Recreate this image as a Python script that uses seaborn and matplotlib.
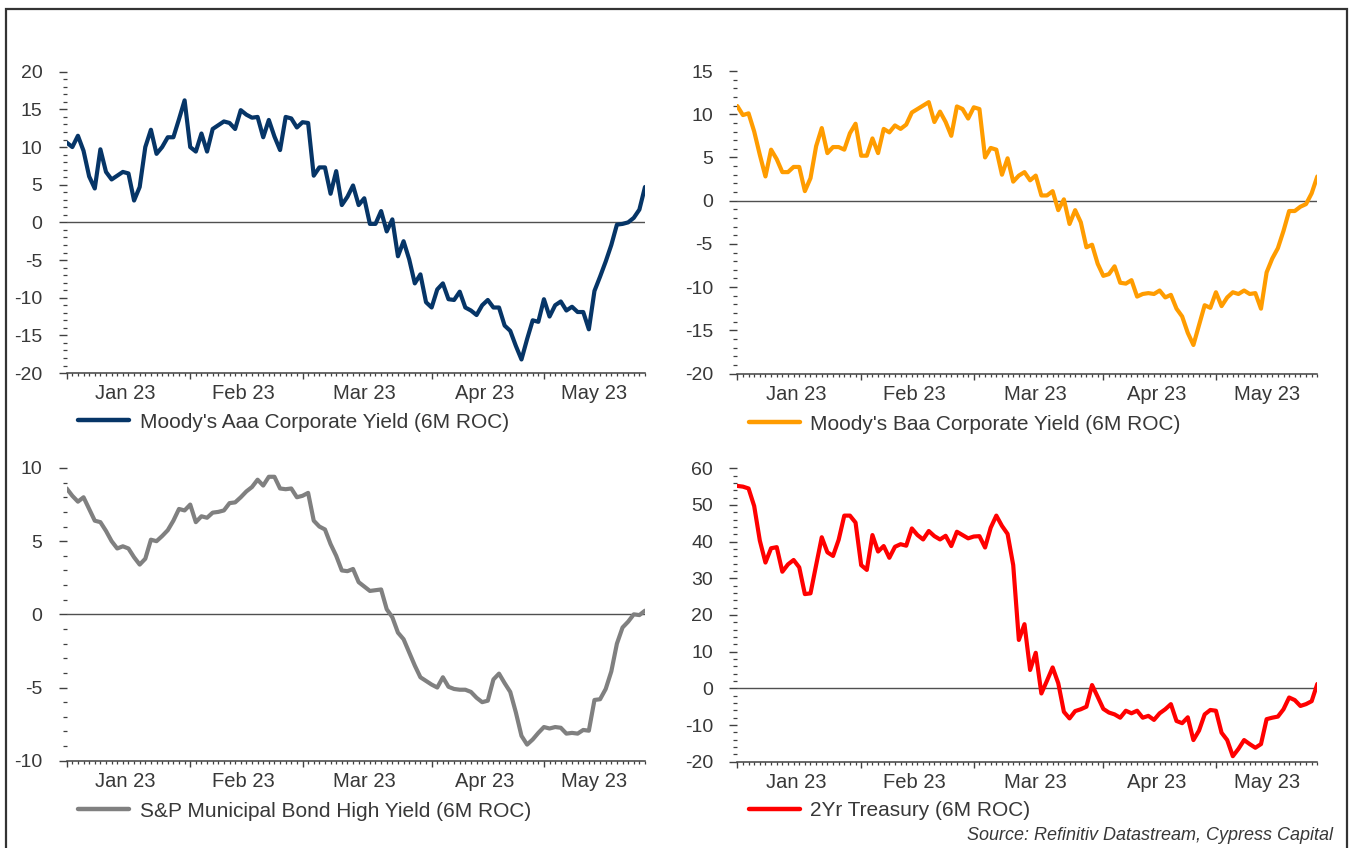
import numpy as np
import pandas as pd
import matplotlib
matplotlib.use("Agg")
import matplotlib.pyplot as plt
from matplotlib.ticker import FixedLocator, MultipleLocator
from matplotlib.patches import Rectangle
import seaborn as sns

# Trading days covered by the chart
dates = pd.bdate_range("2023-01-02", "2023-05-25")

# 6-month rate of change (%), one value per trading day
aaa = [10.6, 10.0, 11.5, 9.5, 6.1, 4.5, 9.7, 6.7, 5.7, 6.2,
       6.7, 6.5, 2.9, 4.7, 10.0, 12.3, 9.1, 10.0, 11.3, 11.3,
       13.7, 16.2, 10.0, 9.4, 11.8, 9.4, 12.4, 12.9, 13.4, 13.2,
       12.4, 14.9, 14.3, 13.9, 14.0, 11.3, 13.6, 11.4, 9.6, 14.0,
       13.8, 12.6, 13.3, 13.2, 6.2, 7.3, 7.3, 3.8, 6.8, 2.3,
       3.4, 4.9, 2.3, 3.2, -0.2, -0.2, 1.5, -1.2, 0.4, -4.5,
       -2.5, -4.9, -8.1, -6.9, -10.6, -11.3, -8.9, -8.1, -10.2, -10.3,
       -9.2, -11.3, -11.7, -12.3, -11.0, -10.3, -11.3, -11.3, -13.7, -14.4,
       -16.4, -18.2, -15.5, -13.0, -13.2, -10.2, -12.5, -11.0, -10.5, -11.7,
       -11.2, -11.9, -11.9, -14.2, -9.1, -7.2, -5.2, -3.0, -0.3, -0.2,
       0.0, 0.6, 1.7, 4.7]

baa = [10.95, 9.9, 10.1, 8.0, 5.3, 2.8, 5.9, 4.8, 3.3, 3.3,
       3.9, 3.9, 1.1, 2.6, 6.3, 8.4, 5.5, 6.2, 6.2, 5.9,
       7.8, 8.9, 5.2, 5.2, 7.2, 5.5, 8.3, 7.9, 8.7, 8.3,
       8.8, 10.2, 10.6, 11.0, 11.4, 9.1, 10.3, 9.1, 7.5, 10.9,
       10.6, 9.5, 10.8, 10.6, 5.0, 6.1, 5.9, 3.0, 4.9, 2.2,
       2.9, 3.3, 2.35, 2.9, 0.6, 0.6, 1.1, -1.1, 0.15, -2.7,
       -1.1, -2.5, -5.4, -5.1, -7.3, -8.7, -8.5, -7.6, -9.5, -9.6,
       -9.2, -11.1, -10.8, -10.7, -10.8, -10.4, -11.2, -10.9, -12.5, -13.4,
       -15.3, -16.7, -14.4, -12.1, -12.4, -10.6, -12.2, -11.2, -10.6, -10.8,
       -10.4, -10.8, -10.7, -12.5, -8.3, -6.7, -5.5, -3.5, -1.2, -1.2,
       -0.7, -0.4, 0.85, 2.8]

muni = [8.6, 8.1, 7.7, 8.0, 7.2, 6.4, 6.3, 5.7, 5.0, 4.5,
        4.65, 4.5, 3.9, 3.4, 3.8, 5.1, 5.0, 5.35, 5.75, 6.4,
        7.2, 7.1, 7.5, 6.3, 6.7, 6.6, 6.95, 7.0, 7.1, 7.6,
        7.65, 8.0, 8.4, 8.7, 9.2, 8.8, 9.4, 9.4, 8.6, 8.55,
        8.6, 8.0, 8.1, 8.3, 6.4, 6.0, 5.8, 4.8, 4.0, 3.0,
        2.95, 3.1, 2.2, 1.9, 1.6, 1.65, 1.7, 0.35, -0.2, -1.25,
        -1.7, -2.6, -3.5, -4.3, -4.55, -4.8, -5.0, -4.3, -4.95, -5.1,
        -5.15, -5.15, -5.3, -5.7, -6.0, -5.9, -4.45, -4.05, -4.7, -5.3,
        -6.7, -8.3, -8.9, -8.55, -8.1, -7.7, -7.8, -7.7, -7.75, -8.15,
        -8.1, -8.15, -7.9, -7.95, -5.85, -5.8, -5.1, -3.9, -2.0, -0.9,
        -0.5, 0.0, -0.05, 0.25]

tsy2 = [55.2, 55.0, 54.5, 49.7, 40.3, 34.3, 38.2, 38.5, 31.8, 33.8,
        35.0, 33.0, 25.7, 25.9, 33.6, 41.2, 37.1, 36.1, 40.5, 47.1,
        47.1, 45.2, 33.6, 32.3, 41.8, 37.3, 38.8, 35.6, 38.6, 39.3,
        38.9, 43.6, 41.8, 40.6, 42.9, 41.5, 40.6, 41.6, 38.8, 42.7,
        41.8, 40.9, 41.4, 41.5, 38.4, 43.8, 47.1, 44.3, 42.1, 33.6,
        13.2, 17.5, 5.0, 9.7, -1.4, 2.1, 5.7, 1.4, -6.4, -8.2,
        -6.2, -5.7, -5.0, 0.9, -2.3, -5.6, -6.6, -7.1, -8.0, -6.1,
        -6.8, -6.1, -8.0, -7.5, -8.6, -6.8, -5.7, -4.3, -8.9, -9.5,
        -7.9, -14.1, -11.5, -7.1, -5.9, -6.1, -12.1, -14.1, -18.5, -16.5,
        -14.1, -15.2, -16.2, -15.2, -8.4, -8.0, -7.7, -5.7, -2.5, -3.2,
        -4.8, -4.3, -3.5, 1.2]

series_names = ["Moody's Aaa Corporate Yield (6M ROC)",
                "Moody's Baa Corporate Yield (6M ROC)",
                "S&P Municipal Bond High Yield (6M ROC)",
                "2Yr Treasury (6M ROC)"]
month_labels = ["Jan 23", "Feb 23", "Mar 23", "Apr 23", "May 23"]
source_note = "Source: Refinitiv Datastream, Cypress Capital"

# Trading-day axis: each business day is one step along x
df = pd.DataFrame({"date": dates, "pos": np.arange(len(dates))})
df["month"] = df["date"].dt.to_period("M")
month_starts = df.groupby("month")["pos"].min().values
month_mids = df.groupby("month")["pos"].apply(lambda s: (s.min() + s.max()) / 2).values

sns.set_theme(style="white")
plt.rcParams["font.family"] = ["Liberation Sans", "DejaVu Sans"]
plt.rcParams["axes.unicode_minus"] = False

TEXT = "#383838"
AXIS = "#404040"

fig = plt.figure(figsize=(13.51, 8.48), dpi=100)

panels = [
    # rect, values, colour, y-limits, major step, minor step, legend y
    ([0.04937, 0.5601, 0.42805, 0.35531], aaa, "#063567", (-20, 20), 5, 1, -0.163),
    ([0.54574, 0.55955, 0.42931, 0.35672], baa, "#FF9C00", (-20, 15), 5, 1, -0.167),
    ([0.04937, 0.10295, 0.42805, 0.34517], muni, "#808080", (-10, 10), 5, 1, -0.172),
    ([0.54574, 0.10177, 0.42931, 0.34599], tsy2, "#FF0000", (-20, 60), 10, 2, -0.168),
]

for (rect, vals, color, ylim, step, mstep, leg_y), name in zip(panels, series_names):
    ax = fig.add_axes(rect)
    data = df.assign(value=vals)
    sns.lineplot(data=data, x="pos", y="value", ax=ax, color=color,
                 linewidth=3.0, label=name, zorder=3)
    ax.axhline(0, color="#505050", linewidth=1.0, zorder=2)

    ax.set_xlim(df["pos"].min(), df["pos"].max())
    ax.set_ylim(*ylim)
    ax.set_xlabel("")
    ax.set_ylabel("")
    ax.grid(False)

    for side in ("top", "right", "left"):
        ax.spines[side].set_visible(False)
    ax.spines["bottom"].set_color(AXIS)
    ax.spines["bottom"].set_linewidth(1.1)

    # x: long ticks at month starts, short ticks every trading day
    ax.xaxis.set_major_locator(FixedLocator(month_starts))
    ax.xaxis.set_minor_locator(FixedLocator(df["pos"].values))
    ax.tick_params(axis="x", which="major", bottom=True, length=4.5, width=1.0,
                   color=AXIS, direction="out", labelbottom=False)
    ax.tick_params(axis="x", which="minor", bottom=True, length=2.2, width=0.9,
                   color=AXIS, direction="out")

    # y: dashed-looking axis made of ticks only
    ax.yaxis.set_major_locator(MultipleLocator(step))
    ax.yaxis.set_minor_locator(MultipleLocator(mstep))
    ax.tick_params(axis="y", which="major", left=True, length=6.0, width=1.0,
                   color=AXIS, direction="out", pad=11.5, labelsize=14,
                   labelcolor=TEXT)
    ax.tick_params(axis="y", which="minor", left=True, length=3.0, width=0.9,
                   color=AXIS, direction="out")

    # month names centred within each month
    sec = ax.secondary_xaxis("bottom")
    sec.set_xticks(month_mids, labels=month_labels)
    sec.tick_params(axis="x", length=0, pad=8, labelsize=14.5, labelcolor=TEXT)
    sec.spines["bottom"].set_visible(False)

    leg = ax.legend(loc="center left", bbox_to_anchor=(0.02, leg_y),
                    frameon=False, borderpad=0, borderaxespad=0,
                    handlelength=2.45, handletextpad=0.5, fontsize=15)
    for t in leg.get_texts():
        t.set_color(TEXT)
    for h in leg.legend_handles:
        h.set_linewidth(3.2)

fig.text(1333 / 1351, 1 - 836 / 848, source_note, ha="right", va="center",
         style="italic", fontsize=13, color=TEXT)

# outer frame
fig.add_artist(Rectangle((6 / 1351, -0.05), 1341 / 1351, 0.05 + (1 - 9 / 848),
                         transform=fig.transFigure, fill=False,
                         edgecolor="#333333", linewidth=1.6, clip_on=False))

fig.savefig("out.png", dpi=100)
